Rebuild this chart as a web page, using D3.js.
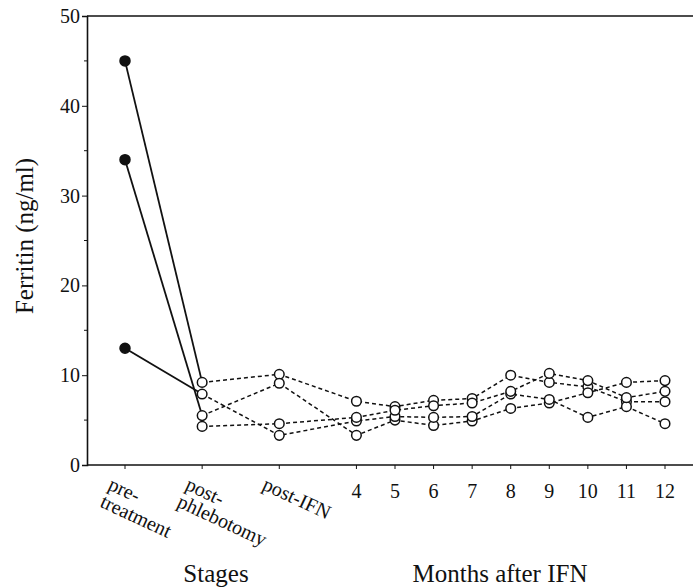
<!DOCTYPE html>
<html>
<head>
<meta charset="utf-8">
<script src="https://cdn.jsdelivr.net/npm/d3@7"></script>
<style>
  body { margin: 0; background: #fff; }
  svg { font-family: "Liberation Serif", "Times New Roman", serif; }
</style>
</head>
<body>
<svg width="693" height="588"></svg>
<script>
// Stage labels (two-line where the original breaks them)
const stageLabels = [["pre-", "treatment"], ["post-", "phlebotomy"], ["post-IFN"]];
const months = [4, 5, 6, 7, 8, 9, 10, 11, 12];
const yTicks = [0, 10, 20, 30, 40, 50];
const yMinorTicks = [5, 15, 25, 35, 45];

// Ferritin per patient: pre-treatment, post-phlebotomy, post-IFN, months 4..12
const patientA = [45, 9.2, 10.1, 7.1, 6.5, 7.2, 7.4, 10.0, 9.2, 8.7, 7.05, 7.05];
const patientB = [34, 5.5, 9.1, 3.3, 5.0, 4.4, 4.9, 6.3, 6.9, 8.05, 9.2, 9.4];
const patientC = [13, 7.9, 3.3, 4.9, 5.4, 5.3, 5.4, 7.9, 7.3, 5.3, 6.5, 4.6];
const patientD = [null, 4.3, 4.6, 5.3, 6.1, 6.6, 6.9, 8.2, 10.2, 9.4, 7.5, 8.2];
const patients = [patientA, patientB, patientC, patientD];

// x positions: stages at 0, 2, 4 ; month m at m + 2
const stagePos = [0, 2, 4];
const positions = stagePos.concat(months.map(m => m + 2));

const svg = d3.select("svg");
const plotLeft = 87, plotRight = 693, plotTop = 16, plotBottom = 465;

const xScale = d3.scaleLinear().domain([0, 14]).range([125, 665]);
const yScale = d3.scaleLinear().domain([0, 50]).range([plotBottom, plotTop]);

// Frame: top line + bottom axis line
svg.append("line")
  .attr("x1", plotLeft).attr("x2", plotRight).attr("y1", plotTop).attr("y2", plotTop)
  .attr("stroke", "#111").attr("stroke-width", 1.3);
svg.append("line")
  .attr("x1", plotLeft).attr("x2", plotRight).attr("y1", plotBottom).attr("y2", plotBottom)
  .attr("stroke", "#111").attr("stroke-width", 1.6);

// Y axis
const yAxis = d3.axisLeft(yScale).tickValues(yTicks).tickSize(5).tickPadding(2);
const yG = svg.append("g").attr("transform", `translate(${plotLeft},0)`).call(yAxis);
yG.attr("font-family", null);
yG.select(".domain").attr("stroke", "#111").attr("stroke-width", 1.6);
yG.selectAll("text").attr("font-size", 20).attr("fill", "#111");
yG.selectAll(".tick line").attr("stroke", "#111");
svg.append("g").selectAll("line").data(yMinorTicks).join("line")
  .attr("x1", plotLeft - 3).attr("x2", plotLeft)
  .attr("y1", d => yScale(d)).attr("y2", d => yScale(d))
  .attr("stroke", "#111");

// X ticks
svg.append("g").selectAll("line").data(positions).join("line")
  .attr("x1", d => xScale(d)).attr("x2", d => xScale(d))
  .attr("y1", plotBottom).attr("y2", plotBottom + 4)
  .attr("stroke", "#111");

// Month labels
svg.append("g").selectAll("text").data(months).join("text")
  .attr("x", d => xScale(d + 2)).attr("y", 498)
  .attr("text-anchor", "middle").attr("font-size", 20).attr("fill", "#111")
  .text(d => d);

// Rotated stage labels
stageLabels.forEach((lines, i) => {
  const x0 = xScale(stagePos[i]) - 18, y0 = 489;
  const g = svg.append("g").attr("transform", `translate(${x0},${y0}) rotate(25)`);
  g.selectAll("text").data(lines).join("text")
    .attr("x", 0).attr("y", (d, j) => j * 19)
    .attr("font-size", 20).attr("fill", "#111")
    .text(d => d);
});

// Axis titles
svg.append("text")
  .attr("transform", "translate(33,236) rotate(-90)")
  .attr("text-anchor", "middle").attr("font-size", 25).attr("fill", "#111")
  .text("Ferritin (ng/ml)");
svg.append("text")
  .attr("x", 216).attr("y", 582).attr("text-anchor", "middle")
  .attr("font-size", 25).attr("fill", "#111").text("Stages");
svg.append("text")
  .attr("x", 500).attr("y", 582).attr("text-anchor", "middle")
  .attr("font-size", 25).attr("fill", "#111").text("Months after IFN");

const line = d3.line()
  .defined(d => d.v != null)
  .x(d => xScale(d.p))
  .y(d => yScale(d.v));

patients.forEach(vals => {
  const pts = vals.map((v, i) => ({ p: positions[i], v: v }));
  // solid segment: pre-treatment -> post-phlebotomy
  if (vals[0] != null) {
    svg.append("path").datum(pts.slice(0, 2))
      .attr("fill", "none").attr("stroke", "#111").attr("stroke-width", 1.8)
      .attr("d", line);
  }
  // dashed from post-phlebotomy on
  svg.append("path").datum(pts.slice(1))
    .attr("fill", "none").attr("stroke", "#111").attr("stroke-width", 1.5)
    .attr("stroke-dasharray", "4,3")
    .attr("d", line);
});

// Points
patients.forEach(vals => {
  const pts = vals.map((v, i) => ({ p: positions[i], v: v, i: i })).filter(d => d.v != null);
  svg.append("g").selectAll("circle").data(pts).join("circle")
    .attr("cx", d => xScale(d.p)).attr("cy", d => yScale(d.v))
    .attr("r", d => d.i === 0 ? 5 : 4.8)
    .attr("fill", d => d.i === 0 ? "#111" : "#fff")
    .attr("stroke", "#111").attr("stroke-width", 1.5);
});
</script>
</body>
</html>
